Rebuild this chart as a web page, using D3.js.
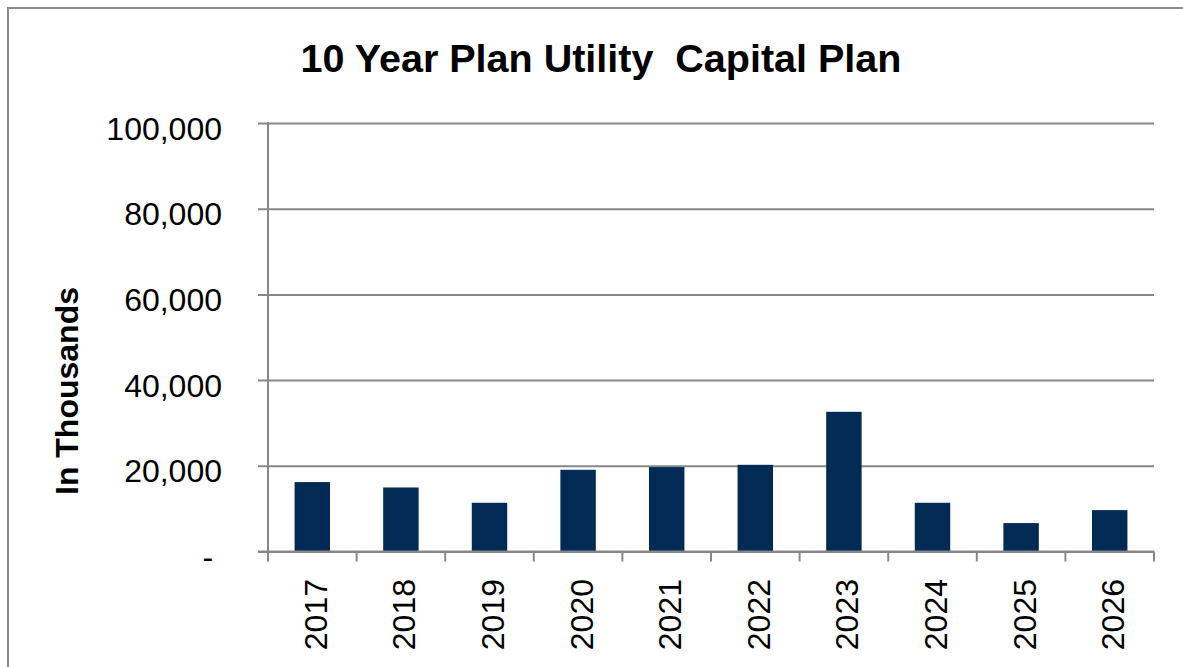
<!DOCTYPE html>
<html>
<head>
<meta charset="utf-8">
<script src="https://cdn.jsdelivr.net/npm/d3@7"></script>
<style>
  html, body { margin: 0; padding: 0; background: #fff; }
  svg { display: block; }
  text { font-family: "Liberation Sans", Arial, sans-serif; fill: #000; }
</style>
</head>
<body>
<svg id="chart" width="1183" height="667"></svg>
<script>
// Capital plan by year, in thousands
const years = ["2017", "2018", "2019", "2020", "2021", "2022", "2023", "2024", "2025", "2026"];
const capital = [16200, 14940, 11370, 19070, 19700, 20230, 32600, 11370, 6630, 9660];
const yTicks = [0, 20000, 40000, 60000, 80000, 100000];
const yTickLabels = ["-\u00A0", "20,000", "40,000", "60,000", "80,000", "100,000"];

const titleText = "10 Year Plan Utility  Capital Plan";
const yAxisTitle = "In Thousands";

const svg = d3.select("#chart");
const W = 1183, H = 667;
const plot = { left: 268, right: 1154, top: 123, bottom: 551.5 };
const gridColor = "#878787";
const barColor = "#012b55";

// outer chart frame
svg.append("rect")
  .attr("x", 8).attr("y", 8)
  .attr("width", W + 20).attr("height", H + 20)
  .attr("fill", "#fff")
  .attr("stroke", "#8c8c8c")
  .attr("stroke-width", 2);

const x = d3.scaleBand()
  .domain(years)
  .range([plot.left, plot.right])
  .paddingInner(0.6)
  .paddingOuter(0.3);

const y = d3.scaleLinear()
  .domain([0, 100000])
  .range([plot.bottom, plot.top]);

// horizontal gridlines with outward ticks, via the axis generator
const yAxis = d3.axisLeft(y)
  .tickValues(yTicks)
  .tickSize(-(plot.right - plot.left))
  .tickFormat((d, i) => yTickLabels[i]);

const gy = svg.append("g")
  .attr("transform", `translate(${plot.left},0)`)
  .call(yAxis);
gy.select(".domain").remove();
gy.selectAll(".tick line")
  .attr("x1", -10)
  .attr("stroke", gridColor)
  .attr("stroke-width", 2);
gy.selectAll(".tick text")
  .attr("x", -46)
  .attr("dy", "0.5em")
  .style("font-size", "32px")
  .style("font-family", "'Liberation Sans', Arial, sans-serif")
  .attr("fill", "#000");

// vertical axis line
svg.append("line")
  .attr("x1", plot.left).attr("x2", plot.left)
  .attr("y1", plot.top - 1).attr("y2", plot.bottom + 1)
  .attr("stroke", gridColor).attr("stroke-width", 2);

// bars
svg.append("g").selectAll("rect")
  .data(years.map((yr, i) => ({ yr, v: capital[i] })))
  .join("rect")
  .attr("x", d => x(d.yr))
  .attr("width", x.bandwidth())
  .attr("y", d => y(d.v))
  .attr("height", d => y(0) - y(d.v))
  .attr("fill", barColor);

// category axis: baseline, boundary ticks, rotated year labels
const boundaries = d3.range(years.length + 1)
  .map(i => plot.left + i * (plot.right - plot.left) / years.length);

svg.append("line")
  .attr("x1", plot.left - 10).attr("x2", plot.right)
  .attr("y1", plot.bottom).attr("y2", plot.bottom)
  .attr("stroke", gridColor).attr("stroke-width", 2);

svg.append("g").selectAll("line")
  .data(boundaries)
  .join("line")
  .attr("x1", d => d).attr("x2", d => d)
  .attr("y1", plot.bottom).attr("y2", plot.bottom + 10)
  .attr("stroke", gridColor).attr("stroke-width", 2);

svg.append("g").selectAll("text")
  .data(years)
  .join("text")
  .attr("transform", d => `translate(${x(d) + x.bandwidth() / 2 + 3},579) rotate(-90)`)
  .attr("text-anchor", "end")
  .attr("dy", "0.36em")
  .style("font-size", "32px")
  .text(d => d);

// title
svg.append("text")
  .attr("x", 601).attr("y", 72)
  .attr("text-anchor", "middle")
  .style("font-size", "39.5px")
  .style("font-weight", "bold")
  .style("white-space", "pre")
  .text(titleText);

// y-axis title
svg.append("text")
  .attr("transform", "translate(78,391) rotate(-90)")
  .attr("text-anchor", "middle")
  .style("font-size", "32px")
  .style("font-weight", "bold")
  .text(yAxisTitle);
</script>
</body>
</html>
